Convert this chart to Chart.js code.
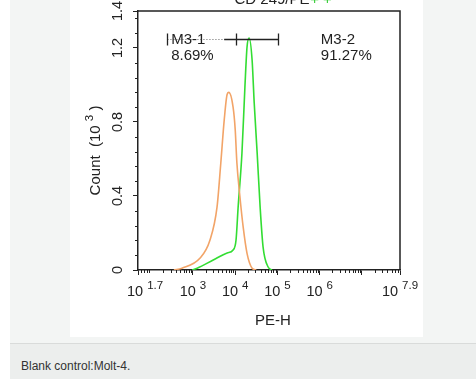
<!DOCTYPE html>
<html><head><meta charset="utf-8">
<script src="https://cdn.jsdelivr.net/npm/chart.js@4"></script>
<style>
html,body{margin:0;padding:0;background:#fff;width:476px;height:379px;overflow:hidden;font-family:"Liberation Sans",Arial,sans-serif;}
#panel{position:absolute;left:10px;top:0;width:466px;height:343px;background:#f3f5f4;border-bottom:1px solid #d9dbda;}
#wrap{position:absolute;left:70px;top:0;width:353px;height:337px;background:#fff;}
#cap{position:absolute;left:10px;top:344px;width:466px;height:35px;background:#eceeed;}
#cap span{position:absolute;left:11px;top:15px;font-size:12px;color:#333;}
</style></head>
<body>
<div id="panel"></div>
<div id="wrap"><canvas id="c"></canvas></div>
<div id="cap"><span>Blank control:Molt-4.</span></div>
<script>
// PE-H in log10 units, count in thousands
const controlLogPE = [2.55,2.74,3.17,3.40,3.57,3.66,3.74,3.81,3.85,3.95,4.00,4.04,4.11,4.19,4.28,4.40,4.50];
const controlCount = [0,0.01,0.065,0.16,0.34,0.58,0.81,0.95,0.96,0.88,0.76,0.58,0.40,0.23,0.09,0.01,0];
const stainedLogPE = [2.98,3.10,3.48,3.81,3.95,4.02,4.07,4.16,4.23,4.28,4.33,4.40,4.45,4.52,4.59,4.66,4.78,4.87];
const stainedCount = [0,0.01,0.054,0.092,0.108,0.162,0.341,0.632,0.989,1.205,1.254,1.135,0.903,0.632,0.341,0.124,0.016,0];

const xTickValues = [1.7,3,4,5,6,7,7.9];
const xTickExponents = ["1.7","3","4","5","6","","7.9"];
const yTickValues = [0,0.4,0.8,1.2,1.4];
const yTickLabels = ["0","0.4","0.8","1.2","1.4"];

const gateNames = ["M3-1","M3-2"];
const gatePercents = ["8.69%","91.27%"];
const gateStart = [2.39,3.74];
const gateEnd = [4.02,5.01];
const gateLevel = 1.25;

const xTitle = "PE-H";
const topTitle = "CD 249/PE";

const FONT = '"Liberation Sans", Arial, sans-serif';

function toPts(xs, ys){ return xs.map((x,i)=>({x:x,y:ys[i]})); }

const drawPlugin = {
  id:'decor',
  afterDraw(chart){
    const ctx = chart.ctx, a = chart.chartArea;
    const xs = chart.scales.x, ys = chart.scales.y;
    ctx.save();
    ctx.strokeStyle = '#222'; ctx.lineWidth = 1.5;
    ctx.beginPath();
    ctx.moveTo(a.left, a.top); ctx.lineTo(a.right, a.top); ctx.lineTo(a.right, a.bottom);
    ctx.stroke();
    // minor ticks
    ctx.lineWidth = 1;
    ctx.beginPath();
    for (let n=1;n<=7;n++) for (let k=2;k<=9;k++){
      const v = n + Math.log10(k);
      if (v<=1.7 || v>=7.9) continue;
      const px = Math.round(xs.getPixelForValue(v))+0.5;
      ctx.moveTo(px, a.bottom); ctx.lineTo(px, a.bottom+3);
    }
    for (let i=1;i<18;i++){
      if (i%5===0) continue;
      const py = Math.round(ys.getPixelForValue(i*0.08))+0.5;
      ctx.moveTo(a.left, py); ctx.lineTo(a.left-3, py);
    }
    ctx.stroke();
    ctx.fillStyle = '#222';
    // x tick labels with superscripts
    xTickValues.forEach((v,i)=>{
      const e = xTickExponents[i];
      if (!e) return;
      ctx.font = '14.5px '+FONT;
      const w1 = ctx.measureText('10').width;
      ctx.font = '11.5px '+FONT;
      const w2 = ctx.measureText(e).width;
      const gap = 4;
      const total = w1+gap+w2;
      let cx = xs.getPixelForValue(v);
      let x0 = Math.max(cx - total/2, a.left - 11);
      ctx.textAlign='left'; ctx.textBaseline='alphabetic';
      ctx.font = '14.5px '+FONT;
      ctx.fillText('10', x0, a.bottom+26);
      ctx.font = '11.5px '+FONT;
      ctx.fillText(e, x0+w1+gap, a.bottom+19);
    });
    // y tick labels rotated
    ctx.font = '14.5px '+FONT;
    ctx.textAlign='center'; ctx.textBaseline='middle';
    yTickValues.forEach((v,i)=>{
      ctx.save();
      ctx.translate(a.left-20, ys.getPixelForValue(v));
      ctx.rotate(-Math.PI/2);
      ctx.fillText(yTickLabels[i], 0, 0);
      ctx.restore();
    });
    // y title with superscript
    ctx.save();
    ctx.translate(a.left-43, (a.top+a.bottom)/2+10);
    ctx.rotate(-Math.PI/2);
    ctx.font = '15px '+FONT;
    const p1 = 'Count  (10 ', p3 = ' )';
    const wp1 = ctx.measureText(p1).width, wp3 = ctx.measureText(p3).width;
    ctx.font = '11.5px '+FONT;
    const wp2 = ctx.measureText('3').width;
    let sx = -(wp1+wp2+wp3)/2;
    ctx.textAlign='left'; ctx.textBaseline='alphabetic';
    ctx.font = '15px '+FONT;
    ctx.fillText(p1, sx, 5);
    ctx.font = '11.5px '+FONT;
    ctx.fillText('3', sx+wp1, -2);
    ctx.font = '15px '+FONT;
    ctx.fillText(p3, sx+wp1+wp2, 5);
    ctx.restore();
    // x title
    ctx.font = '15px '+FONT;
    ctx.textAlign='center'; ctx.textBaseline='alphabetic';
    ctx.fillText(xTitle, (a.left+a.right)/2+4, a.bottom+55);
    // top title (cut off)
    ctx.fillText(topTitle, (a.left+a.right)/2+3, 4);
    ctx.fillStyle = '#3c3';
    ctx.fillText('+ +', (a.left+a.right)/2+52, 4);
    // gates
    const gy = Math.round(ys.getPixelForValue(gateLevel))+0.5;
    ctx.strokeStyle = '#999'; ctx.lineWidth = 1; ctx.setLineDash([1.5,1.5]);
    ctx.beginPath();
    ctx.moveTo(xs.getPixelForValue(gateStart[0]), gy); ctx.lineTo(xs.getPixelForValue(gateEnd[0]), gy);
    ctx.stroke();
    ctx.setLineDash([]);
    ctx.strokeStyle = '#222'; ctx.lineWidth = 1.3;
    ctx.beginPath();
    ctx.moveTo(xs.getPixelForValue(gateStart[1]), gy); ctx.lineTo(xs.getPixelForValue(gateEnd[1]), gy);
    [gateStart[0], gateEnd[0], gateEnd[1]].forEach(v=>{
      const px = Math.round(xs.getPixelForValue(v))+0.5;
      ctx.moveTo(px, gy-6); ctx.lineTo(px, gy+6);
    });
    ctx.stroke();
    ctx.fillStyle = '#222';
    ctx.font = '15px '+FONT;
    ctx.textAlign='left'; ctx.textBaseline='middle';
    const l1 = xs.getPixelForValue(gateStart[0])+4;
    ctx.fillText(gateNames[0], l1, gy);
    ctx.fillText(gatePercents[0], l1, gy+16);
    const l2 = xs.getPixelForValue(gateEnd[1])+43;
    ctx.fillText(gateNames[1], l2, gy);
    ctx.fillText(gatePercents[1], l2, gy+16);
    ctx.restore();
  }
};

new Chart(document.getElementById('c'), {
  type:'line',
  data:{datasets:[
    {label:'Blank control', data:toPts(controlLogPE, controlCount), borderColor:'#f2a468', borderWidth:1.6, pointRadius:0, cubicInterpolationMode:'monotone', fill:false},
    {label:'Stained', data:toPts(stainedLogPE, stainedCount), borderColor:'#33dd33', borderWidth:1.6, pointRadius:0, cubicInterpolationMode:'monotone', fill:false}
  ]},
  options:{
    responsive:true, maintainAspectRatio:false, animation:false,
    layout:{padding:{left:63, right:23, top:11, bottom:62}},
    plugins:{legend:{display:false}, tooltip:{enabled:false}},
    scales:{
      x:{type:'linear', min:1.7, max:7.9,
        afterBuildTicks:s=>{s.ticks = xTickValues.map(v=>({value:v}));},
        ticks:{display:false},
        grid:{drawOnChartArea:false, tickLength:5, color:'#222', lineWidth:1},
        border:{color:'#222', width:1.5}},
      y:{type:'linear', min:0, max:1.4,
        afterBuildTicks:s=>{s.ticks = yTickValues.map(v=>({value:v}));},
        ticks:{display:false},
        grid:{drawOnChartArea:false, tickLength:5, color:'#222', lineWidth:1},
        border:{color:'#222', width:1.5}}
    }
  },
  plugins:[drawPlugin]
});
</script>
</body></html>
